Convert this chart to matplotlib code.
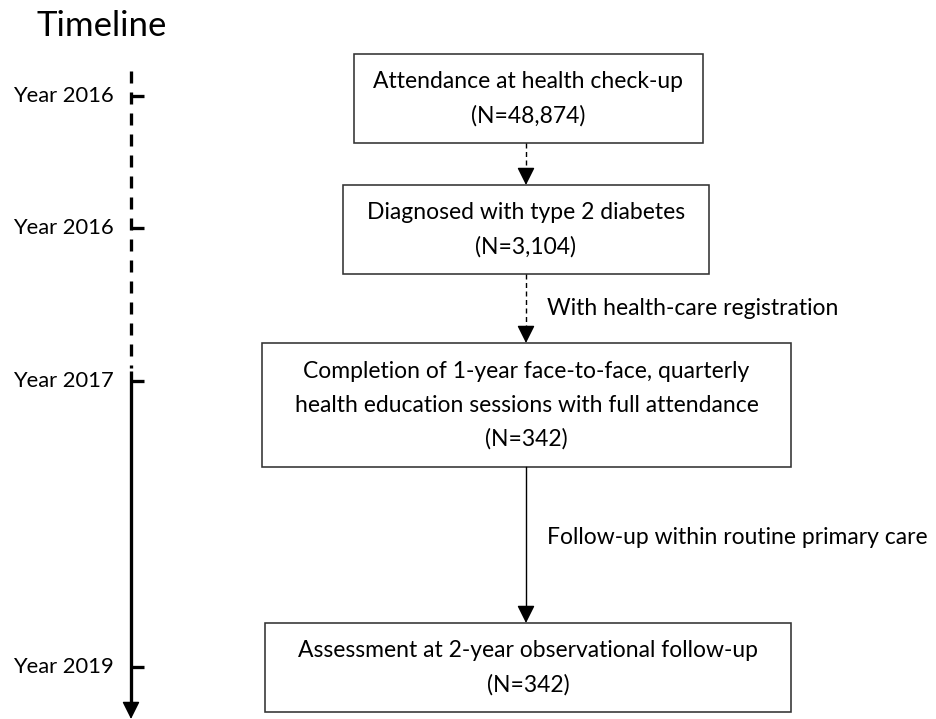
import matplotlib
matplotlib.use('Agg')
import matplotlib.pyplot as plt
from matplotlib.patches import Rectangle

plt.rcParams['font.family'] = ['Lato', 'DejaVu Sans']
plt.rcParams['lines.scale_dashes'] = False

# timeline
year_labels = ['Year 2016', 'Year 2016', 'Year 2017', 'Year 2019']
year_y = [96, 228, 381, 667]

# boxes: (left, top, right, bottom) in pixels, text lines
box_texts = [
    ['Attendance at health check-up', '(N=48,874)'],
    ['Diagnosed with type 2 diabetes', '(N=3,104)'],
    ['Completion of 1-year face-to-face, quarterly',
     'health education sessions with full attendance', '(N=342)'],
    ['Assessment at 2-year observational follow-up', '(N=342)'],
]
box_pos = [(354, 54, 703, 143), (343, 185, 709, 274),
           (262, 343, 791, 467), (265, 623, 791, 712)]
arrow_labels = ['', 'With health-care registration', 'Follow-up within routine primary care']
arrow_dashed = [True, True, False]

fig = plt.figure(figsize=(9.37, 7.19), dpi=100)
ax = fig.add_axes([0, 0, 1, 1])
ax.set_xlim(0, 937)
ax.set_ylim(719, 0)
ax.axis('off')

px = 72 / 100.0  # points per pixel

ax.text(37, 26, 'Timeline', fontsize=25, ha='left', va='center')

# timeline axis
tx = 131
ax.plot([tx, tx], [71, 368], color='black', lw=3.3 * px, dashes=(12 * px, 9 * px),
        solid_capstyle='butt', dash_capstyle='butt')
ax.plot([tx, tx], [371, 708], color='black', lw=3.3 * px, solid_capstyle='butt')
ax.annotate('', xy=(tx, 719), xytext=(tx, 706),
            arrowprops=dict(arrowstyle='-|>,head_length=0.9,head_width=0.45', color='black',
                            lw=1, shrinkA=0, shrinkB=0, mutation_scale=12))
for lab, y in zip(year_labels, year_y):
    ax.plot([tx, tx + 13], [y, y], color='black', lw=3.3 * px, solid_capstyle='butt')
    ax.text(114, y, lab, fontsize=15.8, ha='right', va='center')

# boxes
line_gap = 34
for (l, t, r, b), lines in zip(box_pos, box_texts):
    ax.add_patch(Rectangle((l, t), r - l, b - t, fill=False, edgecolor='#333333', lw=1.6 * px))
    cy = (t + b) / 2.0
    n = len(lines)
    for i, s in enumerate(lines):
        y = cy + (i - (n - 1) / 2.0) * line_gap
        ax.text((l + r) / 2.0, y, s, fontsize=16.5, ha='center', va='center')

# arrows between boxes
ax_x = 526
head = 12
for i in range(3):
    y0 = box_pos[i][3]
    y1 = box_pos[i + 1][1]
    if arrow_dashed[i]:
        ax.plot([ax_x, ax_x], [y0, y1 - head], color='black', lw=1.4 * px,
                dashes=(5 * px, 3.5 * px))
    else:
        ax.plot([ax_x, ax_x], [y0, y1 - head], color='black', lw=1.4 * px)
    ax.annotate('', xy=(ax_x, y1), xytext=(ax_x, y1 - head),
                arrowprops=dict(arrowstyle='-|>,head_length=0.9,head_width=0.45', color='black',
                                lw=1, shrinkA=0, shrinkB=0, mutation_scale=12))
    if arrow_labels[i]:
        ax.text(547, (y0 + y1) / 2.0 + (0 if i == 1 else -8), arrow_labels[i],
                fontsize=16.5, ha='left', va='center')

fig.savefig('out.png', dpi=100, facecolor='white')
